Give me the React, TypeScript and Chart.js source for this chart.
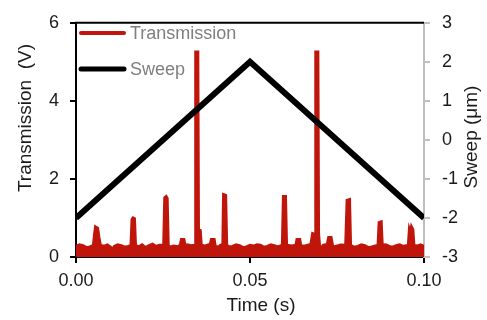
import React, { useEffect, useRef } from "react";
import { Chart, registerables } from "chart.js";

Chart.register(...registerables);

// Transmission trace (time in s, value in V)
const transTime: number[] = [
  0.000, 0.001, 0.002, 0.003, 0.004, 0.0050, 0.0053, 0.0056, 0.0062, 0.0066, 0.0070, 0.008, 0.009,
  0.010, 0.0105, 0.011, 0.012, 0.013, 0.014, 0.015, 0.0158, 0.0161, 0.0164, 0.0168, 0.0171,
  0.018, 0.019, 0.020, 0.021, 0.022, 0.023, 0.024, 0.0252, 0.0255, 0.0259, 0.0262,
  0.0265, 0.027, 0.028, 0.0295, 0.0300, 0.0303, 0.0310, 0.0314, 0.032, 0.033, 0.0342, 0.0344,
  0.0350, 0.0352, 0.0357, 0.0360, 0.037, 0.038, 0.0385, 0.0389, 0.0397, 0.0400, 0.041, 0.0415,
  0.0422, 0.0424, 0.0430, 0.0433, 0.044, 0.045, 0.046, 0.047, 0.048, 0.049, 0.050, 0.051, 0.052, 0.053, 0.054, 0.055,
  0.056, 0.057, 0.058, 0.0593, 0.0596, 0.0602, 0.0605, 0.062, 0.0632, 0.0635, 0.0643, 0.0646,
  0.066, 0.0675, 0.0680, 0.0686, 0.0688, 0.0689, 0.0695, 0.0697, 0.0700, 0.0703,
  0.071, 0.0722, 0.0726, 0.0733, 0.0737, 0.074, 0.075, 0.076, 0.0775, 0.0779, 0.0786, 0.0789,
  0.080, 0.081, 0.082, 0.083, 0.084, 0.085, 0.0868, 0.0871, 0.0877, 0.0880, 0.089, 0.090, 0.091, 0.092, 0.093, 0.094,
  0.0955, 0.0958, 0.0961, 0.0964, 0.0968, 0.0971, 0.098, 0.099, 0.100,
];
const transValue: number[] = [
  0.27, 0.31, 0.29, 0.24, 0.26, 0.30, 0.55, 0.77, 0.74, 0.50, 0.30, 0.27, 0.31,
  0.25, 0.18, 0.27, 0.31, 0.29, 0.25, 0.27, 0.30, 0.96, 1.00, 0.98, 0.30,
  0.26, 0.31, 0.24, 0.29, 0.33, 0.27, 0.30, 0.30, 1.52, 1.55, 1.50,
  0.30, 0.25, 0.28, 0.26, 0.32, 0.45, 0.45, 0.28, 0.31, 0.29, 0.30, 5.25,
  5.25, 0.70, 0.68, 0.30, 0.28, 0.31, 0.29, 0.45, 0.45, 0.28, 0.25, 0.30,
  0.32, 1.60, 1.58, 0.30, 0.26, 0.27, 0.31, 0.29, 0.24, 0.26, 0.30, 0.28, 0.31, 0.30, 0.25, 0.27,
  0.31, 0.29, 0.26, 0.30, 1.55, 1.55, 0.30, 0.28, 0.30, 0.45, 0.45, 0.28,
  0.29, 0.32, 0.60, 0.58, 0.55, 5.25, 5.25, 0.60, 0.28, 0.18,
  0.30, 0.32, 0.50, 0.50, 0.30, 0.26, 0.28, 0.31, 0.30, 1.45, 1.47, 0.30,
  0.25, 0.27, 0.31, 0.29, 0.24, 0.26, 0.30, 0.88, 0.90, 0.30, 0.31, 0.27, 0.25, 0.29, 0.31, 0.27,
  0.30, 0.70, 0.62, 0.77, 0.70, 0.30, 0.28, 0.31, 0.27,
];

// Sweep (time in s, displacement in µm)
const sweepTime: number[] = [0.0, 0.05, 0.1];
const sweepValue: number[] = [-2, 2, -2];

const xTicks: number[] = [0, 0.05, 0.1];
const leftTicks: number[] = [0, 2, 4, 6];
const rightTicks: number[] = [-3, -2, -1, 0, 1, 2, 3];

const legendLabels: string[] = ["Transmission", "Sweep"];
const RED = "#C0150A";
const BLACK = "#000000";
const FONT = "'Liberation Sans', Arial, sans-serif";

export default function App() {
  const canvasRef = useRef<HTMLCanvasElement | null>(null);

  useEffect(() => {
    const canvas = canvasRef.current;
    if (!canvas) return;

    const overlay = {
      id: "overlay",
      afterDraw(chart: any) {
        const { ctx, chartArea } = chart;
        ctx.save();
        // top frame
        ctx.strokeStyle = "#000";
        ctx.lineWidth = 2;
        ctx.beginPath();
        ctx.moveTo(chartArea.left - 1, chartArea.top);
        ctx.lineTo(chartArea.right, chartArea.top);
        ctx.stroke();

        // legend
        const colors = [RED, BLACK];
        const widths = [4, 5];
        const rows = [33, 69];
        ctx.font = `18px ${FONT}`;
        ctx.textBaseline = "middle";
        ctx.textAlign = "left";
        legendLabels.forEach((lab, i) => {
          ctx.strokeStyle = colors[i];
          ctx.lineWidth = widths[i];
          ctx.lineCap = "round";
          ctx.beginPath();
          ctx.moveTo(81, rows[i]);
          ctx.lineTo(124, rows[i]);
          ctx.stroke();
          ctx.fillStyle = "#7f7f7f";
          ctx.fillText(lab, 130, rows[i] + 1);
        });

        // axis titles
        ctx.fillStyle = "#1a1a1a";
        ctx.font = `19px ${FONT}`;
        ctx.textAlign = "center";
        ctx.textBaseline = "middle";
        ctx.fillText("Time (s)", 261, 306);

        ctx.save();
        ctx.translate(26, 118);
        ctx.rotate(-Math.PI / 2);
        ctx.fillText("Transmission  (V)", 0, 0);
        ctx.restore();

        ctx.save();
        ctx.translate(472, 137);
        ctx.rotate(-Math.PI / 2);
        ctx.fillText("Sweep (μm)", 0, 0);
        ctx.restore();

        ctx.restore();
      },
    };

    const chart = new Chart(canvas, {
      type: "line",
      data: {
        datasets: [
          {
            label: "Sweep",
            data: sweepTime.map((t, i) => ({ x: t, y: sweepValue[i] })),
            borderColor: BLACK,
            borderWidth: 6,
            pointRadius: 0,
            yAxisID: "y2",
            order: 0,
            fill: false,
          },
          {
            label: "Transmission",
            data: transTime.map((t, i) => ({ x: t, y: transValue[i] })),
            borderColor: RED,
            backgroundColor: RED,
            borderWidth: 3,
            pointRadius: 0,
            yAxisID: "y",
            order: 1,
            fill: "origin",
            borderJoinStyle: "miter",
          },
        ],
      },
      options: {
        animation: false,
        responsive: false,
        maintainAspectRatio: false,
        layout: { padding: { top: 17, left: 0, right: 0, bottom: 0 } },
        plugins: {
          legend: { display: false },
          tooltip: { enabled: false },
        },
        scales: {
          x: {
            type: "linear",
            min: 0,
            max: 0.1,
            afterFit: (s: any) => {
              s.height = 63;
            },
            afterBuildTicks: (s: any) => {
              s.ticks = xTicks.map((v) => ({ value: v }));
            },
            ticks: {
              callback: (v: any) => Number(v).toFixed(2),
              font: { family: FONT, size: 18 },
              color: "#1a1a1a",
              padding: 7,
              maxRotation: 0,
            },
            grid: {
              drawOnChartArea: false,
              drawTicks: true,
              tickLength: 6,
              color: "#000",
              lineWidth: 2,
            },
            border: { color: "#000", width: 2 },
          },
          y: {
            position: "left",
            min: 0,
            max: 6,
            afterFit: (s: any) => {
              s.width = 76;
            },
            afterBuildTicks: (s: any) => {
              s.ticks = leftTicks.map((v) => ({ value: v }));
            },
            ticks: {
              font: { family: FONT, size: 18 },
              color: "#1a1a1a",
              padding: 11,
            },
            grid: {
              drawOnChartArea: false,
              drawTicks: true,
              tickLength: 6,
              color: "#000",
              lineWidth: 2,
            },
            border: { color: "#000", width: 2 },
          },
          y2: {
            position: "right",
            min: -3,
            max: 3,
            afterFit: (s: any) => {
              s.width = 63;
            },
            afterBuildTicks: (s: any) => {
              s.ticks = rightTicks.map((v) => ({ value: v }));
            },
            ticks: {
              font: { family: FONT, size: 18 },
              color: "#1a1a1a",
              padding: 12,
            },
            grid: {
              drawOnChartArea: false,
              drawTicks: true,
              tickLength: 6,
              color: "#bfbfbf",
              lineWidth: 2,
            },
            border: { color: "#bfbfbf", width: 2 },
          },
        },
      } as any,
      plugins: [overlay],
    });

    return () => chart.destroy();
  }, []);

  return (
    <div style={{ position: "fixed", left: 0, top: 0, width: 487, height: 320, background: "#fff" }}>
      <canvas ref={canvasRef} width={487} height={320} style={{ width: 487, height: 320 }} />
    </div>
  );
}
